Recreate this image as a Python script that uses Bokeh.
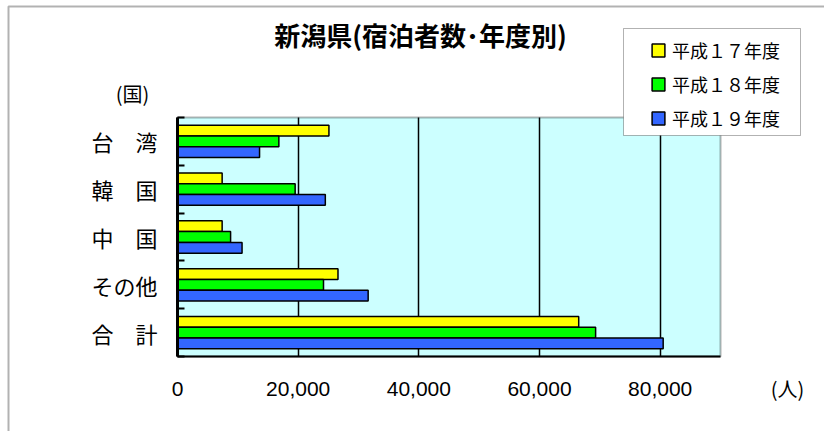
import numpy as np
from bokeh.plotting import figure
from bokeh.models import (Range1d, FixedTicker, NumeralTickFormatter, Legend,
                          LegendItem, Label, BoxAnnotation, ColumnDataSource)
from bokeh.embed import file_html
from bokeh.resources import INLINE

# ---- data ----
categories = ["台　湾", "韓　国", "中　国", "その他", "合　計"]
series_names = ["平成１７年度", "平成１８年度", "平成１９年度"]
h17 = [25100, 7400, 7400, 26600, 66500]
h18 = [16800, 19500, 8800, 24200, 69300]
h19 = [13600, 24500, 10700, 31600, 80500]
x_ticks = [0, 20000, 40000, 60000, 80000]
x_max = 90000
title_text = "新潟県(宿泊者数･年度別)"
y_unit = "(国)"
x_unit = "(人)"

colors = ["#FFFF00", "#00FF00", "#3366FF"]
JP = "Noto Sans CJK JP"

# ---- layout (pixels) ----
W, H = 824, 431
FL, FR, FT, FB = 177, 720, 117, 356   # visible plot area edges
LG_L, LG_R, LG_T, LG_B = 623, 800, 28, 135  # legend box

n = len(categories)
ppx = (FR - FL) / x_max
ppy = (FB - FT) / n
x_rng = Range1d(-FL / ppx, (W - FL) / ppx)
y_rng = Range1d(-(H - FB) / ppy, n + FT / ppy)

centers = n - 0.5 - np.arange(n)
bar_h = 0.225
offsets = [bar_h, 0.0, -bar_h]

p = figure(width=W, height=H, output_backend="svg", toolbar_location=None,
           x_range=x_rng, y_range=y_rng,
           min_border_left=0, min_border_right=0, min_border_top=0, min_border_bottom=0)
p.title.visible = False
p.background_fill_color = None
p.border_fill_color = None
p.outline_line_color = None
p.xgrid.grid_line_color = None
p.ygrid.grid_line_color = None

# plot area background + frame
p.add_layout(BoxAnnotation(left=0, right=x_max, bottom=0, top=n, level="image",
                           fill_color="#CCFFFF", fill_alpha=1,
                           line_color="black", line_width=2))
# outer chart border
p.add_layout(BoxAnnotation(left=8, right=W + 30, top=H - 6, bottom=-30,
                           left_units="screen", right_units="screen",
                           top_units="screen", bottom_units="screen",
                           level="image", fill_color=None,
                           line_color="black", line_width=2))

renderers = []
for vals, off, col in zip([h17, h18, h19], offsets, colors):
    src = ColumnDataSource(dict(y=centers + off, right=vals))
    r = p.hbar(y="y", right="right", left=0, height=bar_h, source=src,
               fill_color=col, line_color="black", line_width=1.5)
    renderers.append(r)

# x axis (its inward ticks serve as the vertical grid lines)
xa = p.xaxis[0]
xa.fixed_location = 0
xa.bounds = (0, x_max)
xa.level = "underlay"
xa.ticker = FixedTicker(ticks=x_ticks)
xa.formatter = NumeralTickFormatter(format="0,0")
xa.major_tick_in = FB - FT
xa.major_tick_out = 0
xa.major_tick_line_color = "black"
xa.major_tick_line_width = 1.5
xa.minor_tick_line_color = None
xa.axis_line_color = "black"
xa.axis_line_width = 2
xa.major_label_text_font = "Liberation Sans"
xa.major_label_text_font_size = "21px"
xa.major_label_text_color = "black"
xa.major_label_standoff = 25

# y axis
ya = p.yaxis[0]
ya.fixed_location = 0
ya.bounds = (0, n)
ya.ticker = FixedTicker(ticks=list(centers), minor_ticks=list(range(n + 1)))
ya.major_label_overrides = {float(c): lab for c, lab in zip(centers, categories)}
ya.major_tick_line_color = None
ya.minor_tick_in = 7
ya.minor_tick_out = 0
ya.minor_tick_line_width = 2
ya.minor_tick_line_color = "black"
ya.axis_line_width = 3
ya.axis_line_color = "black"
ya.major_label_text_font = JP
ya.major_label_text_font_size = "22px"
ya.major_label_text_color = "black"
ya.major_label_standoff = 14

# legend box
p.add_layout(BoxAnnotation(left=LG_L, right=LG_R, top=H - LG_T, bottom=H - LG_B,
                           left_units="screen", right_units="screen",
                           top_units="screen", bottom_units="screen",
                           fill_color="white", fill_alpha=1,
                           line_color="black", line_width=1))
# legend entries
legend = Legend(items=[LegendItem(label=nm, renderers=[r])
                       for nm, r in zip(series_names, renderers)],
                location=(650, H - 131),
                glyph_width=16, glyph_height=16, label_height=16,
                spacing=8, padding=0, margin=0, label_standoff=6,
                label_text_font=JP, label_text_font_size="18px",
                label_text_color="black",
                border_line_color=None, background_fill_color=None)
p.add_layout(legend)

# texts
p.add_layout(Label(x=420, y=H - 34, x_units="screen", y_units="screen", text=title_text,
                   text_font=JP, text_font_size="26px", text_font_style="bold",
                   text_align="center", text_baseline="middle", text_color="black"))
p.add_layout(Label(x=132, y=H - 93, x_units="screen", y_units="screen", text=y_unit,
                   text_font=JP, text_font_size="20px",
                   text_align="center", text_baseline="middle", text_color="black"))
p.add_layout(Label(x=787, y=H - 388, x_units="screen", y_units="screen", text=x_unit,
                   text_font=JP, text_font_size="20px",
                   text_align="center", text_baseline="middle", text_color="black"))

open("out.html", "w").write(file_html(p, INLINE))
